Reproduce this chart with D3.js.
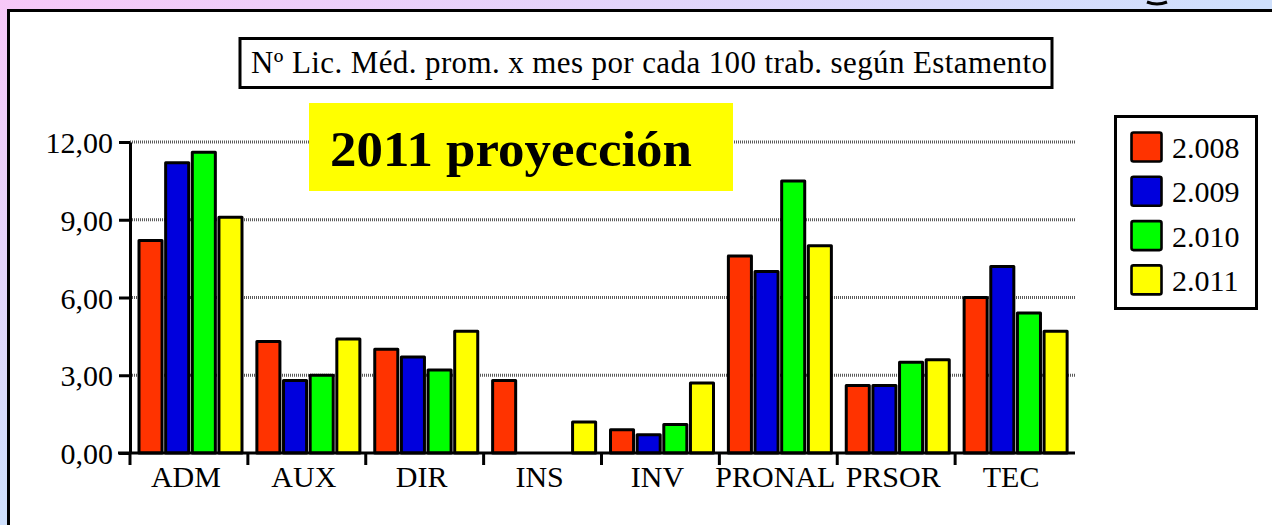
<!DOCTYPE html>
<html>
<head>
<meta charset="utf-8">
<script src="https://cdn.jsdelivr.net/npm/d3@7"></script>
<style>
  html, body { margin: 0; padding: 0; overflow: hidden; }
  svg { display: block; }
  text { font-family: "Liberation Serif", "Times New Roman", serif; fill: #000; }
</style>
</head>
<body>
<svg id="chart" width="1272" height="525"></svg>
<script>
// Licencias médicas promedio por mes por cada 100 trabajadores, por estamento
const categories = ["ADM", "AUX", "DIR", "INS", "INV", "PRONAL", "PRSOR", "TEC"];
const seriesNames = ["2.008", "2.009", "2.010", "2.011"];
const values2008 = [8.2, 4.3, 4.0, 2.8, 0.9, 7.6, 2.6, 6.0];
const values2009 = [11.2, 2.8, 3.7, 0.0, 0.7, 7.0, 2.6, 7.2];
const values2010 = [11.6, 3.0, 3.2, 0.0, 1.1, 10.5, 3.5, 5.4];
const values2011 = [9.1, 4.4, 4.7, 1.2, 2.7, 8.0, 3.6, 4.7];
const yTicks = [0, 3, 6, 9, 12];
const chartTitle = "Nº Lic. Méd. prom. x mes por cada 100 trab. según Estamento";
const bannerText = "2011 proyección";

const seriesValues = [values2008, values2009, values2010, values2011];
const colors = ["#ff3300", "#0000dd", "#00ff00", "#ffff00"];

const svg = d3.select("#chart");
const W = 1272, H = 525;

// Slide background gradient
const defs = svg.append("defs");
const grad = defs.append("linearGradient")
  .attr("id", "bg").attr("x1", 0).attr("y1", 0).attr("x2", 1).attr("y2", 1);
grad.append("stop").attr("offset", 0).attr("stop-color", "#f7c8f8");
grad.append("stop").attr("offset", 0.5).attr("stop-color", "#cfe0fc");
grad.append("stop").attr("offset", 1).attr("stop-color", "#bfe6fc");
svg.append("rect").attr("width", W).attr("height", H).attr("fill", "url(#bg)");

// Bottom of a heading glyph peeking above the panel
svg.append("path")
  .attr("d", "M1147,2 Q1157,6 1167,2")
  .attr("fill", "none").attr("stroke", "#000").attr("stroke-width", 3);

// White chart panel
svg.append("rect")
  .attr("x", 8.5).attr("y", 10.5).attr("width", 1400).attr("height", 700)
  .attr("fill", "#fff").attr("stroke", "#000").attr("stroke-width", 3);

// Scales
const x0 = d3.scaleBand().domain(categories).range([130, 1073]).padding(0);
const x1 = d3.scaleBand().domain(seriesNames).range([8, 113]).paddingInner(0.06);
const y = d3.scaleLinear().domain([0, 12]).range([453, 142]);

// Gridlines
svg.append("g").selectAll("line")
  .data(yTicks.filter(t => t > 0))
  .join("line")
  .attr("x1", 130).attr("x2", 1075)
  .attr("y1", d => y(d)).attr("y2", d => y(d))
  .attr("stroke", "#5a5a5a").attr("stroke-width", 3)
  .attr("stroke-dasharray", "1 1");

// Bars
const groups = svg.append("g").selectAll("g")
  .data(categories)
  .join("g")
  .attr("transform", d => `translate(${x0(d)},0)`);

groups.selectAll("rect")
  .data((c, i) => seriesNames.map((s, k) => ({ s, k, v: seriesValues[k][i] })).filter(d => d.v > 0))
  .join("rect")
  .attr("x", d => x1(d.s) + 1)
  .attr("width", x1.bandwidth() - 2)
  .attr("y", d => y(d.v))
  .attr("height", d => y(0) - y(d.v))
  .attr("fill", d => colors[d.k])
  .attr("stroke", "#000").attr("stroke-width", 3)
  .attr("stroke-linejoin", "round");

// Y axis
const fmt = v => d3.format(".2f")(v).replace(".", ",");
const yAxis = svg.append("g").attr("transform", "translate(130,0)")
  .call(d3.axisLeft(y).tickValues(yTicks).tickSize(11).tickSizeOuter(0).tickFormat(fmt));
yAxis.select(".domain").attr("stroke", "#000").attr("stroke-width", 3);
yAxis.selectAll(".tick line").attr("stroke", "#000").attr("stroke-width", 3);
yAxis.selectAll(".tick text")
  .attr("x", -17).attr("dy", "0.35em")
  .style("font-size", "30px").style("font-family", "Liberation Serif, serif");

// X axis
const xAxis = svg.append("g").attr("transform", "translate(0,453)")
  .call(d3.axisBottom(x0).tickSize(0).tickSizeOuter(0));
xAxis.select(".domain").attr("d", "M118,0H1075").attr("stroke", "#000").attr("stroke-width", 3);
xAxis.selectAll(".tick text")
  .attr("y", 34).attr("dy", 0).attr("dx", -3)
  .style("font-size", "30px").style("font-family", "Liberation Serif, serif");
// Boundary ticks between categories
svg.append("g").selectAll("line")
  .data(categories)
  .join("line")
  .attr("x1", d => x0(d)).attr("x2", d => x0(d))
  .attr("y1", 453).attr("y2", 465)
  .attr("stroke", "#000").attr("stroke-width", 3);

// Chart title box
svg.append("rect")
  .attr("x", 240).attr("y", 38.5).attr("width", 812).attr("height", 49)
  .attr("fill", "#fff").attr("stroke", "#000").attr("stroke-width", 3);
svg.append("text")
  .attr("x", 251).attr("y", 73)
  .attr("textLength", 796).attr("lengthAdjust", "spacing")
  .style("font-size", "31px")
  .text(chartTitle);

// Yellow banner
svg.append("rect")
  .attr("x", 309).attr("y", 103).attr("width", 424).attr("height", 88)
  .attr("fill", "#ffff00");
svg.append("text")
  .attr("x", 330).attr("y", 166)
  .attr("textLength", 362).attr("lengthAdjust", "spacingAndGlyphs")
  .style("font-size", "51px").style("font-weight", "bold")
  .text(bannerText);

// Legend
const legend = svg.append("g");
legend.append("rect")
  .attr("x", 1115.5).attr("y", 116.5).attr("width", 141).attr("height", 192)
  .attr("fill", "#fff").attr("stroke", "#000").attr("stroke-width", 3);
const items = legend.selectAll("g.item")
  .data(seriesNames)
  .join("g").attr("class", "item")
  .attr("transform", (d, i) => `translate(0,${132 + i * 44.3})`);
items.append("rect")
  .attr("x", 1131.5).attr("y", 0.5).attr("width", 30).attr("height", 29)
  .attr("rx", 2)
  .attr("fill", (d, i) => colors[i])
  .attr("stroke", "#000").attr("stroke-width", 2.6);
items.append("text")
  .attr("x", 1172).attr("y", 26)
  .style("font-size", "30px")
  .text(d => d);
</script>
</body>
</html>
